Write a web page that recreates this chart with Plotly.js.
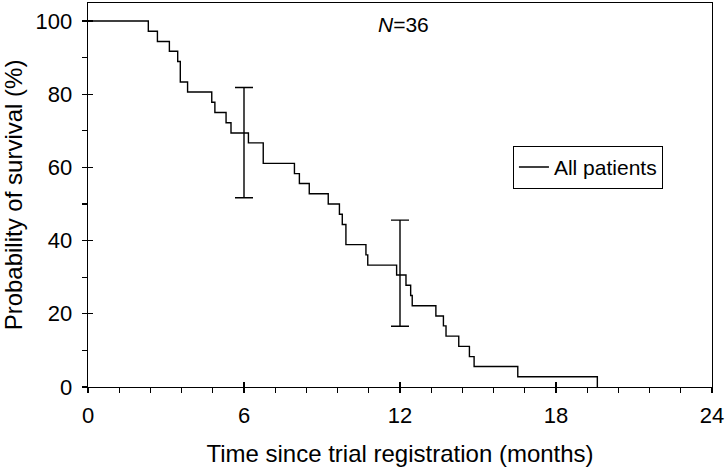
<!DOCTYPE html>
<html>
<head>
<meta charset="utf-8">
<script src="https://cdn.plot.ly/plotly-3.0.1.min.js"></script>
<style>html,body{margin:0;padding:0;background:#fff;}#chart{width:728px;height:468px;}</style>
</head>
<body>
<div id="chart"></div>
<script>
// Kaplan–Meier step data (months, % surviving)
var times = [0, 2.32, 2.67, 3.13, 3.45, 3.55, 3.83, 4.76, 4.88, 5.31, 5.50, 6.17, 6.74, 7.94, 8.13, 8.51, 9.24, 9.67, 9.78, 9.92, 10.69, 10.76, 11.87, 12.23, 12.41, 12.47, 13.38, 13.67, 13.77, 14.26, 14.67, 14.85, 16.53, 19.59];
var survival = [100, 97.2, 94.4, 91.7, 88.9, 83.3, 80.6, 77.8, 75.0, 72.2, 69.4, 66.7, 61.1, 58.3, 55.6, 52.8, 50.0, 47.2, 44.4, 38.9, 36.1, 33.3, 30.6, 27.8, 25.0, 22.2, 19.4, 16.7, 13.9, 11.1, 8.3, 5.6, 2.8, 0];
// Confidence intervals
var ciTimes = [6, 12];
var ciMid = [69.4, 30.6];
var ciUpper = [81.8, 45.6];
var ciLower = [51.7, 16.6];
var xTickVals = [0, 6, 12, 18, 24];
var yTickVals = [0, 20, 40, 60, 80, 100];
var seriesName = 'All patients';

var FONT = 'Liberation Sans, Arial, Helvetica, sans-serif';

var errPlus = ciUpper.map(function(u, i){ return u - ciMid[i]; });
var errMinus = ciLower.map(function(l, i){ return ciMid[i] - l; });

var traces = [
  {
    x: times, y: survival, type: 'scatter', mode: 'lines',
    line: {shape: 'hv', color: '#000', width: 1.4},
    name: seriesName, showlegend: true, hoverinfo: 'skip'
  },
  {
    x: ciTimes, y: ciMid, type: 'scatter', mode: 'markers',
    xaxis: 'x2', yaxis: 'y2',
    marker: {size: 1, color: 'rgba(0,0,0,0)'},
    error_y: {type: 'data', symmetric: false, array: errPlus, arrayminus: errMinus,
              color: '#000', thickness: 1.4, width: 9},
    showlegend: false, hoverinfo: 'skip'
  }
];

var axisCommon = {
  showgrid: false, zeroline: false, linecolor: '#000', linewidth: 1.3,
  tickcolor: '#000', tickwidth: 1.3, ticklen: 5
};

var layout = {
  width: 728, height: 468,
  margin: {l: 88, r: 16, t: 3, b: 81},
  paper_bgcolor: '#fff', plot_bgcolor: '#fff',
  font: {family: FONT, size: 21, color: '#000'},
  showlegend: true,
  legend: {
    x: 0.681, y: 0.628, xanchor: 'left', yanchor: 'top',
    bordercolor: '#000', borderwidth: 1, bgcolor: '#fff',
    font: {family: FONT, size: 21, color: '#000'},
    itemwidth: 30
  },
  xaxis: Object.assign({}, axisCommon, {
    range: [0, 24], tickvals: xTickVals, ticks: 'outside', mirror: true, showline: true,
    tickfont: {family: FONT, size: 22, color: '#000'},
    ticklabelstandoff: 3,
    minor: {dtick: 1.2, tick0: 0, ticks: 'outside', ticklen: 5, tickcolor: '#000', tickwidth: 1.2},
    title: {text: 'Time since trial registration (months)', font: {family: FONT, size: 24, color: '#000'}, standoff: 18}
  }),
  yaxis: Object.assign({}, axisCommon, {
    range: [0, 104.9], tickvals: yTickVals, ticks: 'outside', mirror: true, showline: true,
    tickfont: {family: FONT, size: 22, color: '#000'},
    ticklabelstandoff: 5,
    minor: {dtick: 10, tick0: 0, ticks: 'outside', ticklen: 5, tickcolor: '#000', tickwidth: 1.2},
    title: {text: 'Probability of survival (%)', font: {family: FONT, size: 24, color: '#000'}, standoff: 8}
  }),
  xaxis2: Object.assign({}, axisCommon, {
    range: [0, 24], tickvals: xTickVals, ticks: 'inside', showline: false,
    showticklabels: false, overlaying: 'x', anchor: 'y2', side: 'bottom'
  }),
  yaxis2: Object.assign({}, axisCommon, {
    range: [0, 104.9], tickvals: yTickVals, ticks: 'inside', showline: false,
    showticklabels: false, overlaying: 'y', anchor: 'x2', side: 'left'
  }),
  annotations: [{
    xref: 'paper', yref: 'paper', x: 0.506, y: 0.944,
    xanchor: 'center', yanchor: 'middle', showarrow: false,
    text: '<i>N</i>=36', font: {family: FONT, size: 21, color: '#000'}
  }]
};

Plotly.newPlot('chart', traces, layout, {displayModeBar: false, staticPlot: true});
</script>
</body>
</html>
